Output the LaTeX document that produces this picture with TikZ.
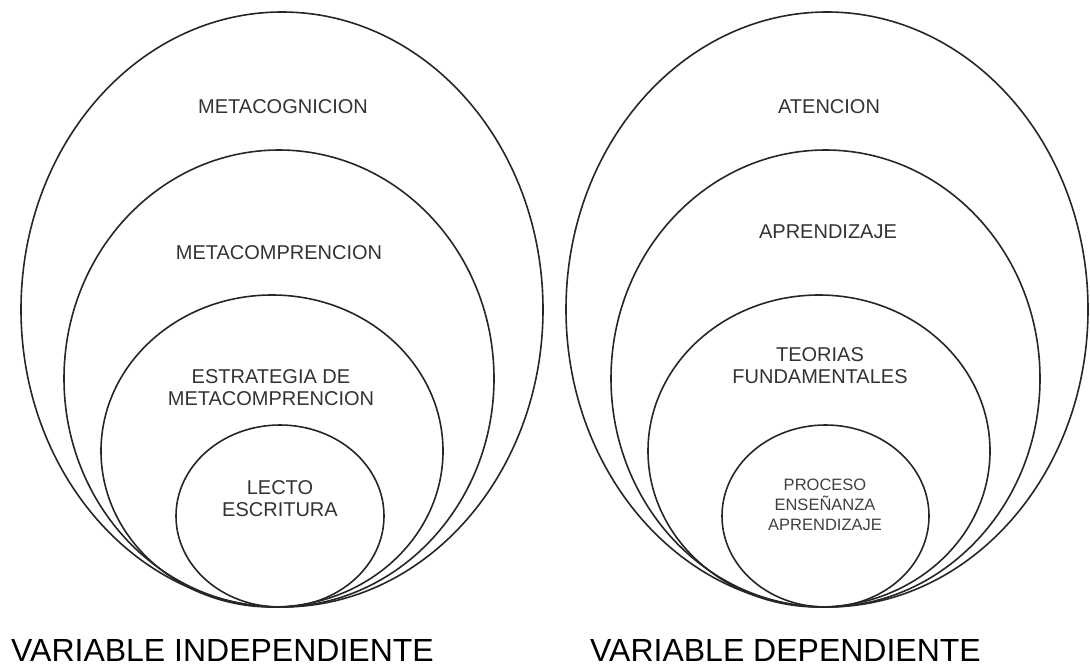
\documentclass[tikz,border=0pt]{standalone}
\usepackage{fontspec}
\setmainfont{Liberation Sans}
\usetikzlibrary{shapes.geometric}
\begin{document}
\begin{tikzpicture}[x=1pt,y=-1pt,
  ring/.style={draw=black!85, line width=1.6pt, ellipse, inner sep=0pt, outer sep=0pt},
  lbl/.style={text=black!80, font=\fontsize{20}{22}\selectfont, align=center, inner sep=0pt},
  smalllbl/.style={text=black!75, font=\fontsize{16.5}{20}\selectfont, align=center, inner sep=0pt},
  caption/.style={text=black, font=\fontsize{32}{36}\selectfont, anchor=base west, inner sep=0pt}]
\useasboundingbox (0,0) rectangle (1090,667);
% left diagram
\node[ring, minimum width=522pt, minimum height=595pt] (l1) at (282,309.5) {};
\node[ring, minimum width=430pt, minimum height=457pt] (l2) at (279,378.5) {};
\node[ring, minimum width=342pt, minimum height=312pt] (l3) at (272,451) {};
\node[ring, minimum width=208pt, minimum height=182pt] (l4) at (280,516) {};
\node[lbl] (tl1) at (283,107) {METACOGNICION};
\node[lbl] (tl2) at (279,253) {METACOMPRENCION};
\node[lbl] (tl3) at (271,387.5) {ESTRATEGIA DE\\METACOMPRENCION};
\node[lbl] (tl4) at (280,499) {LECTO\\ESCRITURA};
% right diagram
\node[ring, minimum width=522pt, minimum height=595pt] (r1) at (827,309.5) {};
\node[ring, minimum width=429pt, minimum height=457pt] (r2) at (825.5,378.5) {};
\node[ring, minimum width=342pt, minimum height=312pt] (r3) at (819,451) {};
\node[ring, minimum width=207pt, minimum height=182pt] (r4) at (825.5,516) {};
\node[lbl] (tr1) at (829,107) {ATENCION};
\node[lbl] (tr2) at (828,232) {APRENDIZAJE};
\node[lbl] (tr3) at (820,366) {TEORIAS\\FUNDAMENTALES};
\node[smalllbl] (tr4) at (825,505) {PROCESO\\ENSEÑANZA\\APRENDIZAJE};
% captions
\node[caption] (cl) at (11,661) {VARIABLE INDEPENDIENTE};
\node[caption] (cr) at (590,661) {VARIABLE DEPENDIENTE};
\end{tikzpicture}
\end{document}
